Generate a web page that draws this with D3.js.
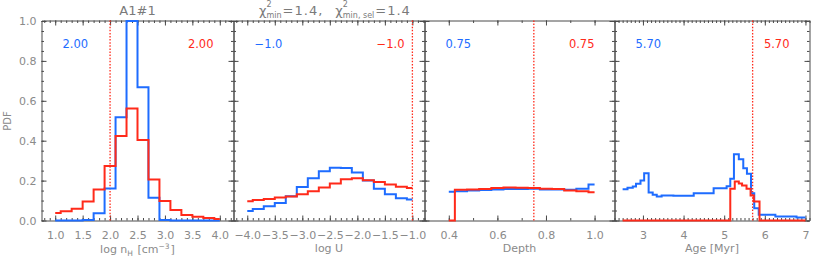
<!DOCTYPE html>
<html>
<head>
<meta charset="utf-8">
<script src="https://cdn.jsdelivr.net/npm/d3@7/dist/d3.min.js"></script>
<style>
  body { margin: 0; background: #fff; }
  svg { display: block; font-family: 'DejaVu Sans', sans-serif; }
</style>
</head>
<body>
<svg id="chart"></svg>
<script>
// values
const nhX    = [1.0, 1.2, 1.4, 1.6, 1.8, 2.0, 2.2, 2.4, 2.6, 2.8, 3.0, 3.2, 3.4, 3.6, 3.8, 4.0];
const nhBlue = [0, 0, 0, 0.003, 0.036, 0.161, 0.518, 1.0, 0.668, 0.114, 0.003, 0, 0, 0, 0, 0];
const nhRed  = [0.037, 0.046, 0.059, 0.095, 0.156, 0.273, 0.424, 0.561, 0.404, 0.205, 0.098, 0.053, 0.027, 0.019, 0.012, 0.007];

const uX    = [-4.0, -3.8, -3.6, -3.4, -3.2, -3.0, -2.8, -2.6, -2.4, -2.2, -2.0, -1.8, -1.6, -1.4, -1.2, -1.0];
const uBlue = [0.047, 0.058, 0.071, 0.088, 0.122, 0.168, 0.212, 0.247, 0.264, 0.263, 0.241, 0.200, 0.159, 0.131, 0.112, 0.105];
const uRed  = [0.097, 0.103, 0.108, 0.115, 0.120, 0.131, 0.147, 0.166, 0.186, 0.207, 0.212, 0.202, 0.193, 0.181, 0.169, 0.163];

const depthX    = [0.40, 0.45, 0.50, 0.55, 0.60, 0.65, 0.70, 0.75, 0.80, 0.85, 0.90, 0.95, 1.00];
const depthBlue = [0.144, 0.147, 0.151, 0.153, 0.156, 0.158, 0.158, 0.159, 0.156, 0.156, 0.154, 0.159, 0.181];
const depthRed  = [0, 0.154, 0.156, 0.158, 0.163, 0.166, 0.164, 0.163, 0.159, 0.158, 0.151, 0.146, 0.142];

// age bins are irregular: bin edges + one value per bin
const ageBlueEdges = [2.50, 2.62, 2.75, 2.83, 2.94, 3.03, 3.14, 3.24, 3.34, 3.46, 3.75, 4.25, 4.74, 5.06, 5.15, 5.24, 5.36, 5.47, 5.56, 5.66, 5.74, 5.85, 6.26, 6.78, 7.00];
const ageBlue      = [0.157, 0.164, 0.170, 0.184, 0.200, 0.237, 0.140, 0.129, 0.120, 0.125, 0.124, 0.137, 0.162, 0.172, 0.209, 0.332, 0.307, 0.262, 0.234, 0.137, 0.062, 0.029, 0.020, 0.015];
const ageRedEdges  = [2.50, 5.15, 5.26, 5.36, 5.44, 5.55, 5.65, 5.73, 5.87, 7.00];
const ageRed       = [0, 0.159, 0.195, 0.185, 0.175, 0.159, 0.125, 0.095, 0];

const bestLabels = ['2.00', '\u22121.0', '0.75', '5.70'];
const bestValues = [2.0, -1.0, 0.75, 5.70];

const nhTicks    = [1.0, 1.5, 2.0, 2.5, 3.0, 3.5, 4.0];
const uTicks     = [-4.0, -3.5, -3.0, -2.5, -2.0, -1.5, -1.0];
const depthTicks = [0.4, 0.6, 0.8, 1.0];
const ageTicks   = [3, 4, 5, 6, 7];
const pdfTicks   = [0, 0.2, 0.4, 0.6, 0.8, 1.0];

const blue = '#1e6cff', red = '#ff2a1a';
const axisCol = '#4a4a4a', textCol = '#8a8a8a';

function centred(xs, ys) { return xs.map((v, i) => [v, ys[i]]); }
function edged(es, ys) {
	const pts = ys.map((v, i) => [es[i], v]);
	pts.push([es[es.length - 1], ys[ys.length - 1]]);
	return pts;
}

const panels = [
	{lo: 41.5, hi: 233.5, domain: [0.75, 4.25], ticks: nhTicks, minor: 0.1, fmt: '.1f',
	 blue: centred(nhX, nhBlue), red: centred(nhX, nhRed), curve: d3.curveStep},
	{lo: 233.5, hi: 424.5, domain: [-4.25, -0.78], ticks: uTicks, minor: 0.1, fmt: '.1f', label: 'log U',
	 blue: centred(uX, uBlue), red: centred(uX, uRed), curve: d3.curveStep},
	{lo: 424.5, hi: 614.5, domain: [0.3, 1.082], ticks: depthTicks, minor: 0.1, fmt: '.1f', label: 'Depth',
	 blue: centred(depthX, depthBlue), red: centred(depthX, depthRed), curve: d3.curveStep},
	{lo: 614.5, hi: 809.5, domain: [2.3, 7.1], ticks: ageTicks, minor: 0.1, fmt: 'd', label: 'Age [Myr]',
	 blue: edged(ageBlueEdges, ageBlue), red: edged(ageRedEdges, ageRed), curve: d3.curveStepAfter}
];

const svg = d3.select('#chart').attr('width', 830).attr('height', 261);

const y = d3.scaleLinear().domain([0, 1.0025]).range([220.5, 20.5]);
const yMinor = d3.range(0, 1.001, 0.05);

// lays out text pieces with super/subscripts, returns width
function richText(g, parts, size) {
	let cx = 0;
	parts.forEach(pt => {
		if (pt.gap) { cx += pt.gap; return; }
		if (pt.t !== undefined) {
			const t = g.append('text').attr('x', cx).attr('font-size', size)
				.attr('letter-spacing', pt.ls || 0).text(pt.t);
			cx += t.node().getComputedTextLength();
			return;
		}
		let w = 0;
		if (pt.sup) {
			const t = g.append('text').attr('x', cx).attr('y', pt.supY).attr('font-size', pt.size).text(pt.sup);
			w = Math.max(w, t.node().getComputedTextLength());
		}
		if (pt.sub) {
			const t = g.append('text').attr('x', cx).attr('y', pt.subY).attr('font-size', pt.size).text(pt.sub);
			w = Math.max(w, t.node().getComputedTextLength());
		}
		cx += w + 1;
	});
	return cx;
}

panels.forEach((p, i) => {
	const x = d3.scaleLinear().domain(p.domain).range([p.lo, p.hi]);
	const minor = d3.range(Math.ceil(p.domain[0] / p.minor - 1e-6), Math.floor(p.domain[1] / p.minor + 1e-6) + 1)
		.map(k => +(k * p.minor).toFixed(3));
	const g = svg.append('g').attr('color', axisCol);

	// minor ticks on four sides
	g.append('g').attr('transform', `translate(0,${y.range()[0]})`)
		.call(d3.axisBottom(x).tickValues(minor).tickSize(-2.5).tickFormat(''))
		.select('.domain').remove();
	g.append('g').attr('transform', `translate(0,${y.range()[1]})`)
		.call(d3.axisTop(x).tickValues(minor).tickSize(-2.5).tickFormat(''))
		.select('.domain').remove();
	g.append('g').attr('transform', `translate(${p.lo},0)`)
		.call(d3.axisLeft(y).tickValues(yMinor).tickSize(-2.5).tickFormat(''))
		.select('.domain').remove();
	g.append('g').attr('transform', `translate(${p.hi},0)`)
		.call(d3.axisRight(y).tickValues(yMinor).tickSize(-2.5).tickFormat(''))
		.select('.domain').remove();

	// major ticks and frame
	const xb = g.append('g').attr('transform', `translate(0,${y.range()[0]})`)
		.call(d3.axisBottom(x).tickValues(p.ticks).tickSize(-5).tickSizeOuter(0)
			.tickPadding(10.5).tickFormat(d3.format(p.fmt)));
	xb.selectAll('text').attr('fill', textCol).attr('font-size', 11).attr('font-family', 'DejaVu Sans');
	g.append('g').attr('transform', `translate(0,${y.range()[1]})`)
		.call(d3.axisTop(x).tickValues(p.ticks).tickSize(-5).tickSizeOuter(0).tickFormat(''));
	const yl = g.append('g').attr('transform', `translate(${p.lo},0)`)
		.call(d3.axisLeft(y).tickValues(pdfTicks).tickSize(-5).tickSizeOuter(0).tickPadding(5)
			.tickFormat(i === 0 ? d3.format('.1f') : ''));
	yl.selectAll('text').attr('fill', textCol).attr('font-size', 11).attr('font-family', 'DejaVu Sans');
	g.append('g').attr('transform', `translate(${p.hi},0)`)
		.call(d3.axisRight(y).tickValues(pdfTicks).tickSize(-5).tickSizeOuter(0).tickFormat(''));

	// best-fit marker
	svg.append('line')
		.attr('x1', x(bestValues[i])).attr('x2', x(bestValues[i]))
		.attr('y1', y.range()[1]).attr('y2', y.range()[0])
		.attr('stroke', red).attr('stroke-width', 1.3).attr('stroke-dasharray', '1.5,1.6');

	const line = d3.line().x(d => x(d[0])).y(d => y(d[1])).curve(p.curve);
	svg.append('path').datum(p.blue).attr('d', line)
		.attr('fill', 'none').attr('stroke', blue).attr('stroke-width', 2);
	svg.append('path').datum(p.red).attr('d', line)
		.attr('fill', 'none').attr('stroke', red).attr('stroke-width', 2);

	svg.append('text').attr('x', p.lo + 21).attr('y', 47.5)
		.attr('font-size', 11.5).attr('fill', blue).text(bestLabels[i]);
	svg.append('text').attr('x', p.hi - 20).attr('y', 47.5).attr('text-anchor', 'end')
		.attr('font-size', 11.5).attr('fill', red).text(bestLabels[i]);

	if (p.label) {
		svg.append('text').attr('x', (p.lo + p.hi) / 2).attr('y', 252).attr('text-anchor', 'middle')
			.attr('font-size', 11).attr('fill', textCol).text(p.label);
	}
});

// x label of first panel: log n_H [cm^-3]
const nhLab = svg.append('g').attr('fill', textCol);
const nhW = richText(nhLab, [
	{t: 'log n'}, {sub: 'H', subY: 3, size: 7.5}, {gap: 3.5}, {t: '[cm'}, {sup: '\u22123', supY: -3.5, size: 7.5}, {t: ']'}
], 11);
nhLab.attr('transform', `translate(${(panels[0].lo + panels[0].hi) / 2 - nhW / 2},252.5)`);

// y label
svg.append('text').attr('transform', 'translate(11,121) rotate(-90)').attr('text-anchor', 'middle')
	.attr('font-size', 10).attr('fill', textCol).text('PDF');

// titles
svg.append('text').attr('x', (panels[0].lo + panels[0].hi) / 2).attr('y', 15).attr('text-anchor', 'middle')
	.attr('font-size', 13).attr('fill', '#7a7a7a').text('A1#1');

const t2 = svg.append('g').attr('fill', '#7a7a7a');
richText(t2, [
	{t: '\u03c7'}, {sup: '2', supY: -8, sub: 'min', subY: 2.5, size: 8},
	{t: '=1.4,', ls: 1}, {gap: 12},
	{t: '\u03c7'}, {sup: '2', supY: -8, sub: 'min, sel', subY: 2.5, size: 8},
	{t: '=1.4', ls: 1}
], 13);
t2.attr('transform', 'translate(259,15)');
</script>
</body>
</html>
